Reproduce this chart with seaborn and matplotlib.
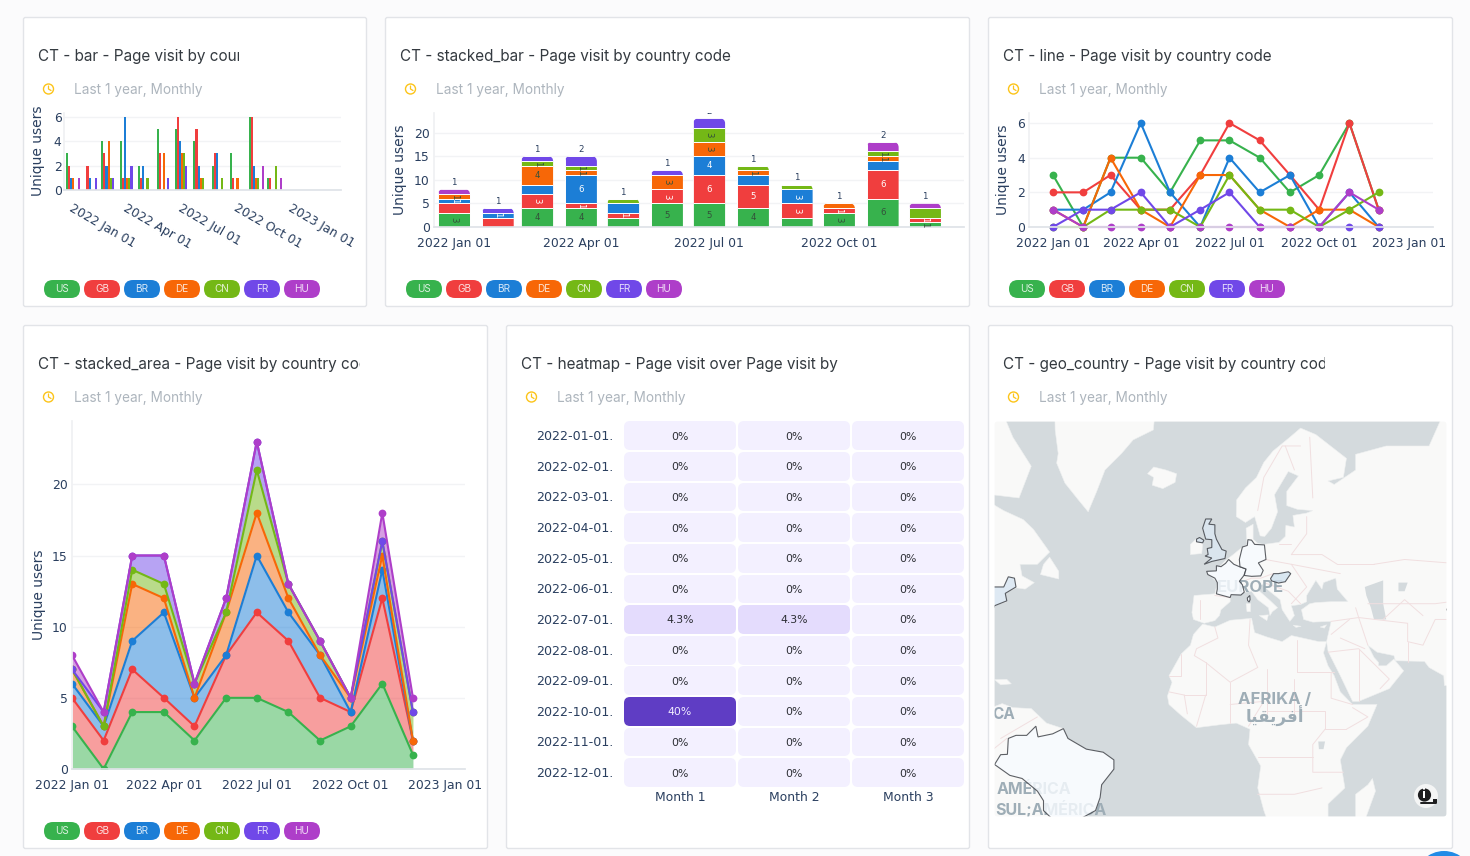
import numpy as np
import pandas as pd
import matplotlib
matplotlib.use("Agg")
import matplotlib.pyplot as plt
import matplotlib.dates as mdates
from matplotlib.colors import LinearSegmentedColormap
from matplotlib.patches import FancyBboxPatch, Circle, Polygon
from matplotlib.path import Path
from matplotlib.transforms import Bbox, IdentityTransform
import seaborn as sns

W, H = 1470, 856

# ---------- dashboard data ----------
months = pd.date_range("2022-01-01", periods=12, freq="MS")
countries = ["US", "GB", "BR", "DE", "CN", "FR", "HU"]
colors = ["#37b24d", "#f03e3e", "#1c7ed6", "#f76707", "#74b816", "#7048e8", "#ae3ec9"]

visits_us = [3, 0, 4, 4, 2, 5, 5, 4, 2, 3, 6, 1]
visits_gb = [2, 2, 3, 1, 1, 3, 6, 5, 3, 1, 6, 1]
visits_br = [1, 1, 2, 6, 2, 0, 4, 2, 3, 0, 2, 0]
visits_de = [1, 0, 4, 1, 0, 3, 3, 1, 0, 1, 1, 0]
visits_cn = [0, 0, 1, 1, 1, 0, 3, 1, 1, 0, 1, 2]
visits_fr = [0, 1, 1, 2, 0, 1, 2, 0, 0, 0, 0, 0]
visits_hu = [1, 0, 0, 0, 0, 0, 0, 0, 0, 0, 2, 1]

cohort_rows = ["2022-01-01.", "2022-02-01.", "2022-03-01.", "2022-04-01.", "2022-05-01.", "2022-06-01.",
               "2022-07-01.", "2022-08-01.", "2022-09-01.", "2022-10-01.", "2022-11-01.", "2022-12-01."]
cohort_cols = ["Month 1", "Month 2", "Month 3"]
cohort_month1 = [0, 0, 0, 0, 0, 0, 4.3, 0, 0, 40, 0, 0]
cohort_month2 = [0, 0, 0, 0, 0, 0, 4.3, 0, 0, 0, 0, 0]
cohort_month3 = [0, 0, 0, 0, 0, 0, 0, 0, 0, 0, 0, 0]

date_ticks = pd.to_datetime(["2022-01-01", "2022-04-01", "2022-07-01", "2022-10-01", "2023-01-01"])
date_tick_labels = ["2022 Jan 01", "2022 Apr 01", "2022 Jul 01", "2022 Oct 01", "2023 Jan 01"]

# Simplified base map, as (lon, lat) rings
land_rings = {
    "eurasia": [(-9, 37), (-9.5, 38.8), (-8.8, 43), (-2, 43.4), (-1.2, 46), (-4.7, 48.3), (-1.5, 48.7), (1.5, 50.8),
                (4, 52), (7, 53.5), (8.5, 54), (8.2, 57), (10.5, 57.7), (10.5, 55), (12, 54.2), (14, 54), (19, 54.4),
                (21, 55.5), (21.2, 57.5), (24, 57.2), (23.5, 59.2), (28, 59.6), (30, 60), (25, 60.2), (21.5, 60.8),
                (21.5, 63), (25.3, 65.2), (22, 65.8), (17.5, 62.5), (18.5, 59.8), (16.5, 57), (14.3, 55.5),
                (12.8, 55.6), (11, 59), (8, 58), (5, 59), (5.1, 61.7), (8, 63.5), (11.6, 65), (14, 67), (17, 68.4),
                (22.5, 70), (26, 71), (31, 70.3), (41, 67.5), (40, 65), (35, 64.5), (37, 64), (44, 66), (44, 68),
                (54, 69), (68, 69), (72, 72), (90, 74),
                (90, 18), (73, 18), (72.8, 21), (68, 23.5), (66.5, 25.3), (57, 25.5), (56.5, 27), (51, 28), (48, 30),
                (50, 26.5), (51.5, 25), (51.5, 24), (54, 24), (56.5, 26), (59.7, 22.5), (55, 17), (45, 13), (43, 13),
                (39, 21), (35, 28.2), (34.5, 31), (36, 36.5), (30, 36.3), (27, 37), (26.3, 39.5), (29, 41), (31, 41.3),
                (36, 41.5), (41.5, 41.5), (38, 44.5), (37.5, 47), (33.5, 46), (33, 44.5), (31, 46.5), (28, 43),
                (28, 41.5), (26, 40.8), (23, 40.5), (24, 38), (22.5, 36.5), (20, 39.5), (19.3, 42), (15, 44.5),
                (13.5, 45.7), (12.3, 45), (12.6, 44), (16, 41.8), (18.5, 40), (16.8, 39), (16, 38), (15.5, 40),
                (12, 42), (10, 44), (7, 43.7), (3, 43), (3, 41.5), (0, 39.5), (-0.5, 38), (-2, 36.7), (-5.5, 36)],
    "africa": [(-6, 35.8), (-2, 35), (3, 36.8), (10, 37.3), (11, 33.5), (15, 32.3), (20, 31), (23, 32.7), (32, 31),
               (34.5, 31), (33.5, 27.8), (35, 24), (37, 21), (39, 16), (43, 12), (51, 12), (48, 5), (41, -2), (39, -6),
               (40.5, -15), (35, -20), (35, -24), (33, -27), (30, -32), (18, -32), (14, -22), (12, -15), (13, -8),
               (9, -1), (9.5, 4), (5, 6), (0, 5.5), (-4, 5), (-8, 4.5), (-13, 8.5), (-17, 12), (-17.5, 14.7), (-16, 19),
               (-17, 21), (-13, 27.5), (-10, 30), (-9, 33)],
    "madagascar": [(49.5, -12), (50.5, -16), (47, -25), (44, -24), (44, -17), (48, -14)],
    "sicily": [(12.5, 38), (15.5, 38.2), (15, 36.7)],
    "sardinia": [(8.2, 41), (9.7, 41), (9.6, 39), (8.5, 39)],
    "crete": [(23.6, 35.5), (26.2, 35.2), (24.5, 34.9)],
    "cyprus": [(32.4, 35), (34.5, 35.6), (33.8, 34.7)],
    "iceland": [(-24, 65.5), (-22, 66.4), (-18, 66), (-14.5, 65.5), (-15, 64.3), (-19, 63.4), (-22.5, 63.9), (-22, 65)],
    "greenland": [(-55, 80), (-22, 80), (-21.6, 72.5), (-22.1, 70.8), (-28.7, 69.7), (-32.5, 68.1), (-37.9, 66), (-40.6, 63),
                  (-43.4, 59.8), (-46.6, 61.7), (-51, 64.2), (-53.7, 66.9), (-53.2, 68.1), (-54.2, 70.8)],
    "ireland": [(-10, 52), (-6.3, 52.2), (-6, 53.8), (-6, 54.3), (-8, 54.5), (-8, 55.1), (-10, 54)],
    "north_america": [(-85, 30), (-81, 31), (-76, 35), (-75.5, 38), (-74, 40.5), (-70, 41.5), (-70.5, 43.5), (-67, 44.8),
                      (-64, 44.5), (-61, 46), (-65, 47.5), (-65.7, 50), (-60, 50), (-56, 52.5), (-61.3, 56.8), (-64.6, 58.5),
                      (-71, 60), (-78, 62), (-85, 60)],
    "newfoundland": [(-59, 47.8), (-53, 46.8), (-53, 48.5), (-56, 51.5), (-58, 50)],
    "baffin": [(-80, 62), (-75, 62.5), (-66, 62), (-62, 66.5), (-68, 70), (-75, 75), (-85, 75)],
    "hispaniola": [(-74, 19.8), (-70, 19.9), (-68.5, 18.5), (-72, 18.2)],
    "south_america": [(-80, 8), (-75, 11), (-71.5, 12.3), (-68, 11), (-62, 10.7), (-57, 6), (-51.5, 4.2), (-50, 1),
                      (-44, -2.5), (-38.5, -3.5), (-35, -6), (-35, -9), (-39, -14), (-39.5, -18), (-41, -22), (-48, -26),
                      (-48, -30), (-80, -30)],
}
inland_water = {
    "caspian": [(47, 45), (53, 46.5), (53, 41), (54, 37), (50, 37), (49, 40), (47.5, 43)],
    "aral": [(58, 46), (61, 46), (60, 44), (58, 44)],
    "victoria": [(31.8, 0), (34, 0), (33.5, -2.5), (32, -2.5)],
}
border_lines = [
    [(-2, 35), (-1, 32), (-8, 29), (-8.7, 27)], [(9.5, 37), (9, 30), (12, 23.5)], [(25, 31.5), (25, 22)],
    [(25, 22), (37, 22)], [(12, 23.5), (3, 19), (-5, 25), (-8.7, 27)], [(-17, 21), (-13, 21), (-13, 27.5)],
    [(15, 23), (15, 8)], [(24, 20), (24, 9)], [(3, 19), (3, 12)], [(-12, 15), (-5, 15), (-5, 25)], [(-17, 16), (-12, 15)],
    [(3, 12), (14, 13)], [(3, 12), (3, 6)], [(9, 5), (14, 13)], [(14, 10), (34, 10), (34, 4), (41, 4)],
    [(34, 4), (30, -1), (30, -10), (40, -10)], [(12, -5), (30, -5)], [(12, -17), (24, -17), (33, -15)],
    [(36, 22), (36, 14), (43, 12)], [(41, 4), (48, 8), (43, 11)], [(-12, 15), (-11, 9)], [(-8, 5), (-5, 15)],
    [(36, 36.5), (45, 37.5), (44, 40)], [(45, 37.5), (48, 30)], [(39, 32), (47, 29)], [(45, 37.5), (61, 36), (61, 31), (66, 30), (70, 37), (74, 37)],
    [(61, 25), (61, 31)], [(48, 41), (70, 41), (80, 42)], [(50, 50), (60, 51), (80, 50)], [(38, 50), (50, 50)],
    [(23, 52), (33, 52), (38, 50)], [(28, 59), (28, 56), (23, 52)], [(14.5, 51), (23, 50), (39, 48)],
    [(23, 50), (28, 45), (23, 41)], [(12, 60), (14, 65), (20, 69), (26, 69)], [(24, 66), (21, 69)], [(30, 62), (29, 70)],
    [(-7, 42), (-7, 37)], [(-2, 43), (3, 42.5)], [(14, 46), (22, 44), (26, 41)], [(35, 28), (45, 29), (55, 20), (52, 17)],
    [(45, 29), (45, 13)], [(36, 33), (42, 37)], [(6, 46), (10, 47), (13, 47), (17, 48)], [(19, 54), (23, 54)],
    [(53, 37), (60, 42), (66, 38)], [(-72, 1), (-60, 8)], [(-75, -3), (-70, 1)],
]
highlighted_regions = {
    "great_britain": ("#dce8f3", [(-5.5, 50), (-3, 50.6), (1.3, 51.2), (1.7, 52.7), (0.3, 53), (-1.5, 55), (-2, 56), (-2, 57.6),
                                  (-4, 57.7), (-3, 58.6), (-5, 58.6), (-6, 57), (-5, 55), (-3, 54.9), (-3, 53.4), (-4.5, 53.2),
                                  (-4.2, 52), (-5.2, 51.7), (-3, 51.3)]),
    "northern_ireland": ("#dce8f3", [(-8, 54.5), (-6, 54.3), (-5.6, 54.8), (-7, 55.3), (-8, 55)]),
    "france": ("#f7fbff", [(-1.5, 43.4), (3, 42.5), (3.3, 43.2), (6.5, 43.1), (7.6, 43.8), (7, 45.5), (6, 46.3), (7.5, 47.6),
                           (8.2, 49), (6, 49.5), (4.2, 50), (2.5, 51), (1.5, 50.2), (0, 49.5), (-1.5, 49.7), (-1.5, 48.6),
                           (-4.7, 48.5), (-4.3, 47.8), (-2, 47), (-1.2, 46), (-1.2, 44.5)]),
    "corsica": ("#f7fbff", [(8.6, 42.4), (9.4, 43), (9.5, 42), (9.2, 41.4), (8.7, 41.8)]),
    "germany": ("#f7fbff", [(6, 51), (7, 53.5), (8.6, 53.8), (8.8, 54.9), (10, 54.8), (11, 54), (14.2, 53.9), (14.7, 51),
                            (12.2, 50.3), (13.8, 48.7), (13, 47.5), (10, 47.4), (7.6, 47.6), (8.2, 49), (6.2, 49.5)]),
    "hungary": ("#d3e3f0", [(16.2, 46.9), (17.2, 48), (18.8, 48), (22, 48.4), (22.8, 48), (21, 46.2), (18.8, 45.9), (16.5, 46.4)]),
    "brazil": ("#f7fbff", [(-74, -7.5), (-72, -4.3), (-69.8, -4.2), (-69.5, 1), (-67, 2), (-63.5, 2), (-60.5, 5), (-59.8, 1.5),
                           (-55, 2.5), (-51.5, 4.2), (-50, 1), (-44, -2.5), (-38.5, -3.5), (-35, -6), (-35, -9), (-39, -14),
                           (-39.5, -18), (-41, -22), (-48, -25.5), (-54, -25.5), (-58, -22), (-58, -19), (-60, -16), (-65, -12),
                           (-69, -11)]),
    "us_northeast": ("#d9e6f2", [(-80, 42), (-76, 43.5), (-75, 45), (-71, 45), (-69.5, 47.3), (-67.5, 47), (-67, 45), (-70.5, 43.5),
                                 (-70, 41.7), (-74, 40.5), (-75.5, 38), (-80, 37)]),
    "china_west": ("#d3e3f0", [(73.7, 39.6), (75, 40.3), (80, 42), (80, 37), (75, 38)]),
}

# ---------- theme ----------
sns.set_theme(style="white")
plt.rcParams["font.family"] = ["DejaVu Sans"]
plt.rcParams["axes.unicode_minus"] = False

label_color = "#2a3f5f"
grid_color = "#f2f3f5"
axis_color = "#dfe3e8"
card_edge = "#e2e4e8"
TICK_PT = 8.9

fig = plt.figure(figsize=(W / 100, H / 100), dpi=100, facecolor="#fbfbfc")


def axes_px(left, top, right, bottom, z=1):
    ax = fig.add_axes([left / W, 1 - bottom / H, (right - left) / W, (bottom - top) / H], zorder=z)
    ax.set_facecolor("none")
    return ax


def clip_px(x0, y0, x1, y1):
    return Bbox([[x0, H - y1], [x1, H - y0]])


def rounded_path(x0, y0, x1, y1, r_top, r_bottom=0.0):
    # Display-space rectangle (y0 below y1) with optional rounded corners
    verts, codes = [(x0 + r_bottom, y0)], [Path.MOVETO]

    def corner(cx, cy, ex, ey):
        verts.extend([(cx, cy), (ex, ey)])
        codes.extend([Path.CURVE3, Path.CURVE3])

    verts.append((x1 - r_bottom, y0)); codes.append(Path.LINETO)
    if r_bottom:
        corner(x1, y0, x1, y0 + r_bottom)
    verts.append((x1, y1 - r_top)); codes.append(Path.LINETO)
    corner(x1, y1, x1 - r_top, y1)
    verts.append((x0 + r_top, y1)); codes.append(Path.LINETO)
    corner(x0, y1, x0, y1 - r_top)
    verts.append((x0, y0 + r_bottom)); codes.append(Path.LINETO)
    if r_bottom:
        corner(x0, y0, x0 + r_bottom, y0)
    verts.append((x0 + r_bottom, y0)); codes.append(Path.CLOSEPOLY)
    return Path(verts, codes)


bg = axes_px(0, 0, W, H, z=0)
bg.set_xlim(0, W)
bg.set_ylim(H, 0)
bg.axis("off")
fg = axes_px(0, 0, W, H, z=5)
fg.set_xlim(0, W)
fg.set_ylim(H, 0)
fg.axis("off")


def draw_card(x0, y0, x1, y1, title, title_clip=None, legend=True):
    bg.add_patch(FancyBboxPatch((x0 + .5, y0 + .5), x1 - x0 - 1, y1 - y0 - 1, boxstyle="round,pad=0,rounding_size=2",
                                fc="white", ec=card_edge, lw=1))
    t = bg.text(x0 + 15, y0 + 39.5, title, fontsize=11.0, family="Inter", color="#343a40", va="center", ha="left")
    if title_clip:
        t.set_clip_on(True)
        t.set_clip_box(clip_px(x0, y0, title_clip, y0 + 70))
    cx, cy = x0 + 25.5, y0 + 72
    bg.add_patch(Circle((cx, cy), 5, fc="none", ec="#fcc419", lw=1))
    bg.plot([cx, cx, cx + 2.5], [cy - 3, cy, cy + 1.5], color="#fcc419", lw=.9)
    bg.text(x0 + 51, y0 + 72.7, "Last 1 year, Monthly", fontsize=9.8, family="Inter", color="#adb5bd", va="center", ha="left")
    if legend:
        py = y1 - 27
        for i, (name, col) in enumerate(zip(countries, colors)):
            px = x0 + 21 + 40 * i
            bg.add_patch(FancyBboxPatch((px, py), 36, 18, boxstyle="round,pad=0,rounding_size=9", fc=col, ec="none"))
            bg.text(px + 18, py + 9.5, name, fontsize=7.2, family="Inter", color="white", alpha=.82, ha="center", va="center")


draw_card(23, 17, 367, 307, "CT - bar - Page visit by country code", title_clip=239)
draw_card(385, 17, 970, 307, "CT - stacked_bar - Page visit by country code")
draw_card(988, 17, 1453, 307, "CT - line - Page visit by country code")
draw_card(23, 325, 488, 849, "CT - stacked_area - Page visit by country code", title_clip=360)
draw_card(506, 325, 970, 849, "CT - heatmap - Page visit over Page visit by", legend=False)
draw_card(988, 325, 1453, 849, "CT - geo_country - Page visit by country code", title_clip=1325, legend=False)

series = dict(zip(countries, [visits_us, visits_gb, visits_br, visits_de, visits_cn, visits_fr, visits_hu]))
palette = dict(zip(countries, colors))
days = mdates.date2num(months)
tick_days = mdates.date2num(date_ticks)
long_df = pd.DataFrame(
    [{"day": d, "country": c, "users": v} for c in countries for d, v in zip(days, series[c])]
)


def style_axis(ax, xlim, ylim, yticks, xticks, xlabels, ylabel_xy, pad=3):
    ax.set_xlim(xlim)
    ax.set_ylim(ylim)
    ax.set_yticks(yticks)
    ax.set_xticks(xticks)
    ax.set_xticklabels(xlabels)
    ax.tick_params(axis="x", length=5, width=1, color=axis_color, labelcolor=label_color, labelsize=TICK_PT, pad=2.5)
    ax.tick_params(axis="y", length=0, labelcolor=label_color, labelsize=TICK_PT, pad=pad)
    ax.grid(axis="y", color=grid_color, lw=1)
    ax.grid(axis="x", visible=False)
    ax.set_axisbelow(True)
    for side in ("top", "right"):
        ax.spines[side].set_visible(False)
    ax.spines["left"].set_color("#f0f1f3")
    ax.spines["bottom"].set_color(axis_color)
    ax.set_xlabel("")
    ax.set_ylabel("Unique users", fontsize=10, color=label_color)
    ax.yaxis.set_label_coords(ylabel_xy[0], ylabel_xy[1], transform=bg.transData)


# ---------- grouped bars ----------
ax1 = axes_px(64.3, 113, 341, 190)
sns.barplot(data=long_df, x="day", y="users", hue="country", hue_order=countries, palette=palette,
            native_scale=True, width=.88, gap=0, saturation=1, errorbar=None, legend=False, linewidth=0, ax=ax1)
style_axis(ax1, (tick_days[0] - 14.5, tick_days[0] + 444.7), (0, 6.3), [0, 2, 4, 6], tick_days, date_tick_labels, (45.5, 150.5), pad=2)
plt.setp(ax1.get_xticklabels(), rotation=-30, ha="left", va="top", rotation_mode="anchor")
ax1.tick_params(axis="x", pad=3.5)
ax1.yaxis.label.set_clip_on(True)
ax1.yaxis.label.set_clip_box(clip_px(20, 107, 60, 210))

# ---------- stacked bars ----------
ax2 = axes_px(434, 113, 964, 227)
stack_floor = np.zeros(12)
for name in countries:
    values = np.array(series[name], dtype=float)
    sns.barplot(x=days, y=values, bottom=stack_floor, color=palette[name], native_scale=True, width=.81,
                saturation=1, errorbar=None, edgecolor="white", linewidth=.7, ax=ax2)
    stack_floor = stack_floor + values
style_axis(ax2, (tick_days[0] - 14.2, tick_days[0] + 361.7), (0, 24.15), [0, 5, 10, 15, 20], tick_days[:4], date_tick_labels[:4], (407.5, 170))
fig.canvas.draw()

dark_text = {"US", "DE", "CN"}
totals = stack_floor.copy()
for c_idx, name in enumerate(countries):
    bars = ax2.containers[c_idx]
    below = np.sum([series[n] for n in countries[:c_idx]], axis=0) if c_idx else np.zeros(12)
    for m, (bar, value) in enumerate(zip(bars, series[name])):
        left, right = bar.get_x(), bar.get_x() + bar.get_width()
        (px0, py0), (px1, py1) = ax2.transData.transform([(left, 0), (right, totals[m])])
        bar.set_clip_path(rounded_path(px0, py0 - 1, px1, py1, 5.5), IdentityTransform())
        if value == 0:
            continue
        center = days[m]
        is_top = below[m] + value == totals[m]
        if is_top:
            ax2.text(center, totals[m] + .45, str(value), fontsize=6.2, color=label_color, ha="center", va="bottom", clip_on=True)
        elif value != 2:
            rot = 0 if value >= 4 else -90
            txt_col = "#33503a" if name in dark_text else "white"
            ax2.text(center, below[m] + value / 2, str(value), fontsize=6.2, color=txt_col, ha="center", va="center", rotation=rot)

# ---------- lines ----------
ax3 = axes_px(1029, 113, 1433, 227)
sns.lineplot(data=long_df, x="day", y="users", hue="country", hue_order=countries, palette=palette, marker="o",
             markersize=5.6, markeredgewidth=0, linewidth=1.5, errorbar=None, legend=False, ax=ax3)
style_axis(ax3, (tick_days[0] - 24.6, tick_days[0] + 389.7), (0, 6.58), [0, 2, 4, 6], tick_days, date_tick_labels, (1010.5, 170))
for line in ax3.lines:
    line.set_clip_on(False)

# ---------- stacked area ----------
ax4 = axes_px(72, 421, 465, 769)
area_floor = np.zeros(12)
stacked_rows = []
for name in countries:
    top = area_floor + np.array(series[name], dtype=float)
    ax4.fill_between(days, area_floor, top, color=palette[name], alpha=.5, lw=0)
    stacked_rows.extend({"day": d, "country": name, "users": v} for d, v in zip(days, top))
    area_floor = top
sns.lineplot(data=pd.DataFrame(stacked_rows), x="day", y="users", hue="country", hue_order=countries, palette=palette,
             marker="o", markersize=5.6, markeredgewidth=0, linewidth=1.5, errorbar=None, legend=False, ax=ax4)
style_axis(ax4, (tick_days[0], tick_days[0] + 385), (0, 24.45), [0, 5, 10, 15, 20], tick_days, date_tick_labels, (46, 594.5))

# ---------- heatmap ----------
ax5 = axes_px(623, 420.5, 965, 788)
cohort = pd.DataFrame({"Month 1": cohort_month1, "Month 2": cohort_month2, "Month 3": cohort_month3}, index=cohort_rows)
cell_text = cohort.map(lambda v: f"{v:g}%")
violet = LinearSegmentedColormap.from_list("violet_scale", [(0, "#f3f0ff"), (.1075, "#e4dcfd"), (1, "#5f3dc4")])
sns.heatmap(cohort, ax=ax5, cmap=violet, vmin=0, vmax=40, cbar=False, annot=cell_text, fmt="",
            annot_kws={"fontsize": 7.8}, linewidths=0, xticklabels=cohort_cols, yticklabels=cohort_rows)
ax5.set_yticks(np.arange(len(cohort_rows)) + .53, cohort_rows)
ax5.tick_params(axis="both", length=0, labelcolor=label_color, labelsize=TICK_PT)
ax5.tick_params(axis="y", pad=7, labelrotation=0, labelsize=9.1)
ax5.tick_params(axis="x", pad=2.5, labelrotation=0)
ax5.set_xlabel("")
ax5.set_ylabel("")
for label in ax5.texts:
    label.set_color("#f1edff" if label.get_text() == "40%" else "#2b2d33")
    tx, ty = label.get_position()
    label.set_position((tx, ty + .03))
fig.canvas.draw()
cell_paths = []
for r in range(len(cohort_rows)):
    for c in range(len(cohort_cols)):
        (a0, b0), (a1, b1) = ax5.transData.transform([(c, r + 1), (c + 1, r)])
        cell_paths.append(rounded_path(a0 + 1, b0 + .9, a1 - 1, b1 - .9, 6, 6))
ax5.collections[0].set_clip_path(Path.make_compound_path(*cell_paths), IdentityTransform())


# ---------- map ----------
def mercator(lat):
    return np.log(np.tan(np.pi / 4 + np.radians(lat) / 2))


def project(ring):
    ring = np.asarray(ring, dtype=float)
    return np.column_stack([ring[:, 0], mercator(ring[:, 1])])


ax6 = axes_px(994, 421, 1447, 817, z=2)
ax6.set_xlim(-74.18, 73.86)
ax6.set_ylim(-0.4307, 1.828)
ax6.set_facecolor("#d4dadd")
ax6.set_xticks([])
ax6.set_yticks([])
for spine in ax6.spines.values():
    spine.set_visible(False)
for ring in land_rings.values():
    ax6.add_patch(Polygon(project(ring), closed=True, fc="#f9f9f8", ec="#eef0f0", lw=.4, zorder=1))
for ring in inland_water.values():
    ax6.add_patch(Polygon(project(ring), closed=True, fc="#d4dadd", ec="none", zorder=2))
for line in border_lines:
    pts = project(line)
    ax6.plot(pts[:, 0], pts[:, 1], color="#f1dfe0", lw=.7, zorder=3)

map_font = {"family": "Inter", "fontweight": "bold", "color": "#9eadb6"}
map_labels = [
    ("EUROPE", 1250, 588, "center", 12), ("AFRIKA /", 1275, 699.5, "center", 12),
    ("\ufe8e\ufef4\ufed8\ufef3\ufeae\ufed3\ufe83", 1275, 716, "center", 12),
    ("CA", 1015, 715, "right", 11), ("AMÉRICA", 997, 790, "left", 11.5), ("SUL;AMÉRICA", 995, 809, "left", 11.5),
]
for text, px, py, align, size in map_labels:
    opts = dict(map_font)
    if "\ufe8e" in text:
        opts["family"] = "DejaVu Sans"
    ax6.text((px - 1221) / 3.06, (741.5 - py) / 175.3, text, ha=align, va="center", fontsize=size, zorder=4, clip_on=True, **opts)
for fill, ring in highlighted_regions.values():
    ax6.add_patch(Polygon(project(ring), closed=True, fc=fill, ec="#3b3e44", lw=.8, alpha=.82, zorder=5))

# Map corners, attribution button and the floating action button
fg.add_patch(FancyBboxPatch((992.5, 419.5), 456, 399, boxstyle="round,pad=0,rounding_size=5", fc="none", ec="white", lw=3))
fg.add_patch(Circle((1426, 796), 12, fc="#f4f5f5", ec="none"))
fg.add_patch(Circle((1424.5, 795), 6.6, fc="#1d1d1f", ec="none"))
fg.text(1424.5, 795, "i", color="white", fontsize=8.5, fontweight="bold", ha="center", va="center")
fg.plot([1421, 1436], [803, 803], color="#1d1d1f", lw=1.4)
fg.add_patch(Polygon([(1433, 799), (1437, 799), (1437, 803), (1433, 803)], closed=True, fc="#1d1d1f", ec="none"))
fg.add_patch(Circle((1444, 880), 29, fc="#228be6", ec="none", clip_on=True))

fig.savefig("out.png", dpi=100, facecolor=fig.get_facecolor())
